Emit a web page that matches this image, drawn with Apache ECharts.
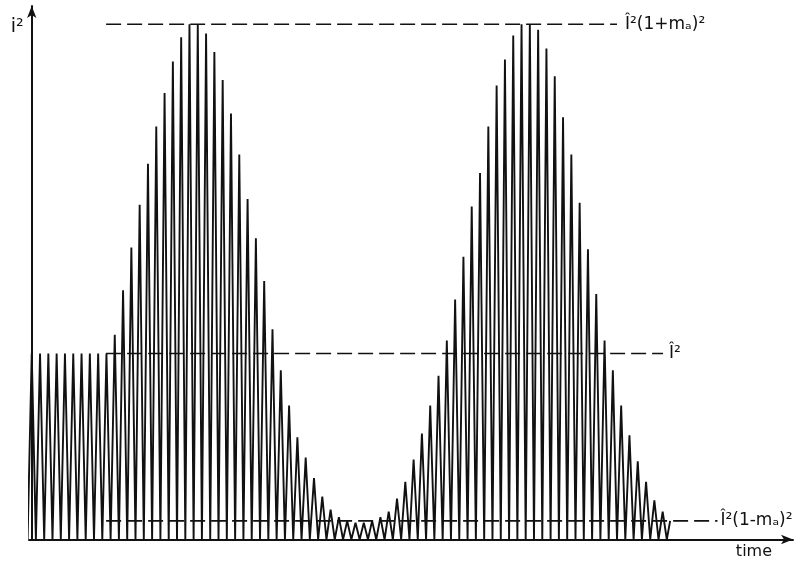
<!DOCTYPE html>
<html><head><meta charset="utf-8">
<script src="https://cdn.jsdelivr.net/npm/echarts@6/dist/echarts.min.js"></script>
<style>html,body{margin:0;padding:0;background:#fff}#c{width:810px;height:563px}</style>
</head><body><div id="c"></div>
<script>
// Peak value of i² in each carrier cycle (unit = Î²)
const peaks = [
  1.00,1.00,1.00,1.00,1.00,1.00,1.00,1.00,1.00,1.00,
  1.10,1.34,1.57,1.80,2.02,2.22,2.40,2.57,2.70,2.77,
  2.77,2.72,2.62,2.47,2.29,2.07,1.83,1.62,1.39,1.13,
  0.91,0.72,0.55,0.44,0.33,0.23,0.16,0.12,0.10,0.09,
  0.09,0.10,0.12,0.15,0.22,0.31,0.43,0.57,0.72,0.88,
  1.07,1.29,1.52,1.79,1.97,2.22,2.44,2.58,2.71,2.77,
  2.77,2.74,2.64,2.49,2.27,2.07,1.81,1.56,1.32,1.07,
  0.91,0.72,0.56,0.42,0.31,0.21,0.15
];
const troughValue = 0;
const finalPoint = [76.9, 0.10];
// reference levels
const levelNames  = ['Î²(1+mₐ)²', 'Î²', 'Î²(1-mₐ)²'];
const levelValues = [2.77, 1.00, 0.10];
const levelStart  = 8.96;
const levelEnds   = [70.5, 76.05, 82.6];
const axisNames = { x: 'time', y: 'i²' };

// build triangle wave from peaks
const wave = [[-0.5, troughValue]];
peaks.forEach((p, n) => { wave.push([n, p]); wave.push([n + 0.5, troughValue]); });
wave.push(finalPoint);

const labelDist = [8, 6, 3];
const labelSize = [17, 17, 17];
const levelSeries = levelNames.map((nm, i) => ({
  type: 'line', name: nm, silent: true, animation: false, showSymbol: false,
  data: [[levelStart, levelValues[i]], [levelEnds[i], levelValues[i]]],
  lineStyle: { color: '#111', width: 1.6, type: [15, 6] },
  endLabel: { show: true, formatter: nm, distance: labelDist[i], color: '#111',
              fontFamily: 'DejaVu Sans', fontSize: labelSize[i] }
}));

const chart = echarts.init(document.getElementById('c'), null, { renderer: 'canvas' });
chart.setOption({
  backgroundColor: '#fff',
  animation: false,
  grid: { left: 29, right: 17, top: 6, bottom: 23.5, containLabel: false },
  xAxis: {
    type: 'value', min: -0.33, max: 91.7,
    name: axisNames.x, nameLocation: 'end', nameGap: -21,
    nameTextStyle: { color: '#111', fontFamily: 'DejaVu Sans', fontSize: 16, align: 'right', verticalAlign: 'top', padding: [4, 0, 0, 0] },
    axisLine: { show: true, symbol: ['none', 'arrow'], symbolSize: [7, 12], lineStyle: { color: '#111', width: 2 } },
    axisTick: { show: false }, axisLabel: { show: false }, splitLine: { show: false }
  },
  yAxis: {
    type: 'value', min: 0, max: 2.868,
    name: axisNames.y, nameLocation: 'end', nameGap: -12,
    nameTextStyle: { color: '#111', fontFamily: 'DejaVu Sans', fontSize: 19, align: 'right', verticalAlign: 'top', padding: [0, 8, 0, 0] },
    axisLine: { show: true, symbol: ['none', 'arrow'], symbolSize: [7, 12], lineStyle: { color: '#111', width: 2 } },
    axisTick: { show: false }, axisLabel: { show: false }, splitLine: { show: false }
  },
  series: [
    { type: 'line', name: 'i2', data: wave, showSymbol: false, clip: true, silent: true,
      lineStyle: { color: '#111', width: 1.9 } },
    ...levelSeries
  ]
});
</script></body></html>
